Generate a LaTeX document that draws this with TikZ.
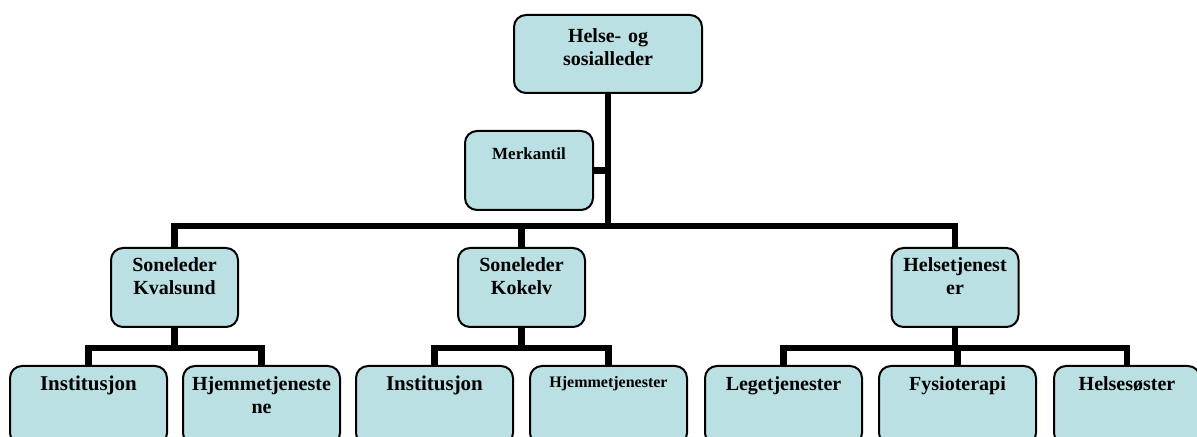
\documentclass[tikz,border=0pt]{standalone}
\usepackage{fontspec}
\setmainfont{Liberation Serif}
\usepackage{tikz}
\usetikzlibrary{positioning}
\definecolor{boxblue}{RGB}{187,224,227}
\tikzset{
	unit/.style={draw=black, line width=1pt, fill=boxblue, rounded corners=6pt,
		inner sep=0pt, align=center, text width=63.5pt,
		font=\bfseries\fontsize{10}{11.5}\selectfont,
		text height=12pt, text depth=27.5pt},
	leaf/.style={unit, text width=78.5pt, text height=12.5pt, text depth=27pt},
	link/.style={line width=3.25pt}
}
\begin{document}
\begin{tikzpicture}[
		x=0.5pt, y=-0.5pt
	]
		\useasboundingbox (0,0) rectangle (1197,437);
		\clip (0,0) rectangle (1197,437);
		\node [unit, text width=94pt, text height=14pt, text depth=25pt] (head) at (608,54) {Helse-\ og\\sosialleder};
		\node [unit, text width=64pt, text height=14.5pt, text depth=25pt,
			font=\bfseries\fontsize{8.5}{10}\selectfont] (merk) at (529,170.5) {Merkantil};
		\node [unit] (kval) at (174.5,287.5) {Soneleder\\Kvalsund};
		\node [unit] (koke) at (521.5,287.5) {Soneleder\\Kokelv};
		\node [unit] (helse) at (955,287.5) {Helsetjenest\\er};
		\node [leaf, font=\bfseries\fontsize{10.5}{12}\selectfont] (inst1) at (88.5,405.5) {Institusjon};
		\node [leaf, right=7pt of inst1] (hjem1) {Hjemmetjeneste\\ne};
		\node [leaf, right=7pt of hjem1, font=\bfseries\fontsize{10.5}{12}\selectfont] (inst2) {Institusjon};
		\node [leaf, right=7.5pt of inst2, text height=10.5pt, text depth=29pt,
			font=\bfseries\fontsize{8}{9.5}\selectfont] (hjem2) {Hjemmetjenester};
		\node [leaf, right=8pt of hjem2] (lege) {Legetjenester};
		\node [leaf, right=7.5pt of lege] (fysio) {Fysioterapi};
		\node [leaf, right=8pt of fysio, text width=73pt] (sost) {Helsesøster};
		\draw[link] (head.south) -- ++(0,132) coordinate (bus);
		\draw[link] (merk.east) -- (merk.east -| head.south);
		\draw[link] (kval.north) |- (bus) -| (helse.north);
		\draw[link] (koke.north) -- (koke.north |- bus);
		\draw[link] (kval.south) -- ++(0,20) coordinate (bkval);
		\draw[link] (inst1.north) |- (bkval) -| (hjem1.north);
		\draw[link] (koke.south) -- ++(0,20) coordinate (bkoke);
		\draw[link] (inst2.north) |- (bkoke) -| (hjem2.north);
		\draw[link] (helse.south) -- ++(0,20) coordinate (bhelse);
		\draw[link] (lege.north) |- (bhelse) -| (sost.north);
		\draw[link] (fysio.north) -- (fysio.north |- bhelse);
	\end{tikzpicture}
\end{document}
